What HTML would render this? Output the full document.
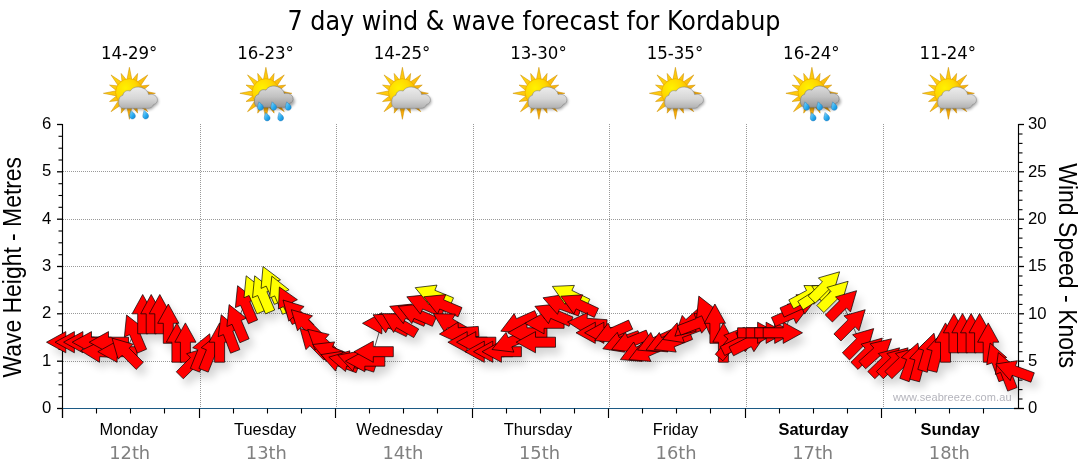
<!DOCTYPE html><html><head><meta charset="utf-8"><title>7 day wind &amp; wave forecast for Kordabup</title>
<style>html,body{margin:0;padding:0;background:#fff;}svg{display:block}.t{font-family:"DejaVu Sans Condensed","DejaVu Sans","Liberation Sans",sans-serif;font-stretch:condensed}.a{font-family:"Liberation Sans",sans-serif}</style></head><body>
<svg width="1080" height="475" viewBox="0 0 1080 475">
<rect width="1080" height="475" fill="#fff"/>
<text class="t" x="287.5" y="30" font-size="26.5" textLength="493" lengthAdjust="spacingAndGlyphs" fill="#000">7 day wind &amp; wave forecast for Kordabup</text>
<text class="t" x="100.9" y="59" font-size="17.3" textLength="56.5" lengthAdjust="spacingAndGlyphs" fill="#000">14-29°</text>
<text class="t" x="237.3" y="59" font-size="17.3" textLength="56.5" lengthAdjust="spacingAndGlyphs" fill="#000">16-23°</text>
<text class="t" x="373.8" y="59" font-size="17.3" textLength="56.5" lengthAdjust="spacingAndGlyphs" fill="#000">14-25°</text>
<text class="t" x="510.2" y="59" font-size="17.3" textLength="56.5" lengthAdjust="spacingAndGlyphs" fill="#000">13-30°</text>
<text class="t" x="646.7" y="59" font-size="17.3" textLength="56.5" lengthAdjust="spacingAndGlyphs" fill="#000">15-35°</text>
<text class="t" x="783.1" y="59" font-size="17.3" textLength="56.5" lengthAdjust="spacingAndGlyphs" fill="#000">16-24°</text>
<text class="t" x="919.6" y="59" font-size="17.3" textLength="56.5" lengthAdjust="spacingAndGlyphs" fill="#000">11-24°</text>
<defs><radialGradient id="gsun" cx="0.36" cy="0.34" r="0.75"><stop offset="0" stop-color="#fff200"/><stop offset="0.5" stop-color="#ffd800"/><stop offset="1" stop-color="#f4a300"/></radialGradient><linearGradient id="gray1" x1="0" y1="0" x2="0" y2="1"><stop offset="0" stop-color="#ececec"/><stop offset="0.55" stop-color="#d6d6d6"/><stop offset="1" stop-color="#b0b0b0"/></linearGradient><linearGradient id="gray2" x1="0" y1="0" x2="0" y2="1"><stop offset="0" stop-color="#dcdcdc"/><stop offset="0.5" stop-color="#c2c2c2"/><stop offset="1" stop-color="#969696"/></linearGradient><linearGradient id="gdrop" x1="0" y1="0" x2="1" y2="1"><stop offset="0" stop-color="#8fdcfb"/><stop offset="0.6" stop-color="#25a8ee"/><stop offset="1" stop-color="#1583cc"/></linearGradient><filter id="ib" x="-20%" y="-20%" width="140%" height="140%"><feGaussianBlur stdDeviation="0.35"/></filter><filter id="ish" x="-30%" y="-30%" width="160%" height="180%"><feGaussianBlur stdDeviation="1.6"/></filter><linearGradient id="gray" gradientUnits="userSpaceOnUse" x1="-18" y1="-18" x2="18" y2="18"><stop offset="0" stop-color="#ffd60a"/><stop offset="0.5" stop-color="#fdbf10"/><stop offset="1" stop-color="#f39a00"/></linearGradient><g id="sun"><g fill="url(#gray)" stroke="#c98a00" stroke-width="0.5" stroke-linejoin="miter"><polygon points="0.00,-26.00 2.58,-12.95 8.23,-19.86 7.33,-10.98 18.38,-18.38 10.98,-7.33 19.86,-8.23 12.95,-2.58 26.00,0.00 12.95,2.58 19.86,8.23 10.98,7.33 18.38,18.38 7.33,10.98 8.23,19.86 2.58,12.95 0.00,26.00 -2.58,12.95 -8.23,19.86 -7.33,10.98 -18.38,18.38 -10.98,7.33 -19.86,8.23 -12.95,2.58 -26.00,0.00 -12.95,-2.58 -19.86,-8.23 -10.98,-7.33 -18.38,-18.38 -7.33,-10.98 -8.23,-19.86 -2.58,-12.95"/></g><circle r="13.8" cy="-0.8" fill="url(#gsun)" stroke="#e8a400" stroke-width="0.6"/></g><path id="cl" d="M-5.5,15 C-9.5,15 -11,11.5 -10.6,8.5 C-10.8,5 -9,2.5 -6.5,2 C-6,-1.5 -3,-3.5 0.8,-2.2 C3,-6 8,-7.2 12.5,-5.6 C16.5,-4.2 18.8,-1.5 19.2,1.2 C23,0.2 27,2 27.8,5.2 C28.6,8 27,10.5 24.2,11.2 C23,13.8 21,15 18.5,15 Z"/><path id="drop" d="M-1.9,-3.9 C-1.2,-2.6 2.6,-1.2 2.6,1.6 C2.6,3.4 1.2,4.6 -0.4,4.6 C-2.2,4.6 -3.2,3.2 -3.2,1.6 C-3.2,-0.4 -2.2,-2.2 -1.9,-3.9 Z"/></defs>
<g transform="translate(129.4,93.3)">
<g filter="url(#ib)">
<use href="#sun"/>
</g>
<use href="#cl" fill="#000" opacity="0.35" filter="url(#ish)" transform="translate(1,1.5)"/>
<g filter="url(#ib)"><use href="#cl" fill="url(#gray1)" stroke="#8c8c8c" stroke-width="0.6"/></g>
<g filter="url(#ib)"><use href="#drop" transform="translate(3.4,21)" fill="url(#gdrop)" stroke="#1a6fb0" stroke-width="0.4"/></g>
<g filter="url(#ib)"><use href="#drop" transform="translate(16.6,21)" fill="url(#gdrop)" stroke="#1a6fb0" stroke-width="0.4"/></g>
</g>
<g transform="translate(265.9,93.3)">
<g filter="url(#ib)">
<use href="#sun"/>
</g>
<use href="#cl" fill="#000" opacity="0.35" filter="url(#ish)" transform="translate(1,1.5)"/>
<g filter="url(#ib)" transform="translate(-0.8,-1)"><use href="#cl" fill="url(#gray2)" stroke="#787878" stroke-width="0.6"/></g>
<g filter="url(#ib)"><use href="#drop" transform="translate(-5.1,12.4)" fill="url(#gdrop)" stroke="#1a6fb0" stroke-width="0.4"/></g>
<g filter="url(#ib)"><use href="#drop" transform="translate(8.1,12.4)" fill="url(#gdrop)" stroke="#1a6fb0" stroke-width="0.4"/></g>
<g filter="url(#ib)"><use href="#drop" transform="translate(22.7,12.4)" fill="url(#gdrop)" stroke="#1a6fb0" stroke-width="0.4"/></g>
<g filter="url(#ib)"><use href="#drop" transform="translate(1.6,23)" fill="url(#gdrop)" stroke="#1a6fb0" stroke-width="0.4"/></g>
<g filter="url(#ib)"><use href="#drop" transform="translate(15.1,23)" fill="url(#gdrop)" stroke="#1a6fb0" stroke-width="0.4"/></g>
</g>
<g transform="translate(402.4,93.3)">
<g filter="url(#ib)">
<use href="#sun"/>
</g>
<use href="#cl" fill="#000" opacity="0.35" filter="url(#ish)" transform="translate(1,1.5)"/>
<g filter="url(#ib)"><use href="#cl" fill="url(#gray1)" stroke="#8c8c8c" stroke-width="0.6"/></g>
</g>
<g transform="translate(538.9,93.3)">
<g filter="url(#ib)">
<use href="#sun"/>
</g>
<use href="#cl" fill="#000" opacity="0.35" filter="url(#ish)" transform="translate(1,1.5)"/>
<g filter="url(#ib)"><use href="#cl" fill="url(#gray1)" stroke="#8c8c8c" stroke-width="0.6"/></g>
</g>
<g transform="translate(675.4,93.3)">
<g filter="url(#ib)">
<use href="#sun"/>
</g>
<use href="#cl" fill="#000" opacity="0.35" filter="url(#ish)" transform="translate(1,1.5)"/>
<g filter="url(#ib)"><use href="#cl" fill="url(#gray1)" stroke="#8c8c8c" stroke-width="0.6"/></g>
</g>
<g transform="translate(811.9,93.3)">
<g filter="url(#ib)">
<use href="#sun"/>
</g>
<use href="#cl" fill="#000" opacity="0.35" filter="url(#ish)" transform="translate(1,1.5)"/>
<g filter="url(#ib)" transform="translate(-0.8,-1)"><use href="#cl" fill="url(#gray2)" stroke="#787878" stroke-width="0.6"/></g>
<g filter="url(#ib)"><use href="#drop" transform="translate(-5.1,12.4)" fill="url(#gdrop)" stroke="#1a6fb0" stroke-width="0.4"/></g>
<g filter="url(#ib)"><use href="#drop" transform="translate(8.1,12.4)" fill="url(#gdrop)" stroke="#1a6fb0" stroke-width="0.4"/></g>
<g filter="url(#ib)"><use href="#drop" transform="translate(22.7,12.4)" fill="url(#gdrop)" stroke="#1a6fb0" stroke-width="0.4"/></g>
<g filter="url(#ib)"><use href="#drop" transform="translate(1.6,23)" fill="url(#gdrop)" stroke="#1a6fb0" stroke-width="0.4"/></g>
<g filter="url(#ib)"><use href="#drop" transform="translate(15.1,23)" fill="url(#gdrop)" stroke="#1a6fb0" stroke-width="0.4"/></g>
</g>
<g transform="translate(948.4,93.3)">
<g filter="url(#ib)">
<use href="#sun"/>
</g>
<use href="#cl" fill="#000" opacity="0.35" filter="url(#ish)" transform="translate(1,1.5)"/>
<g filter="url(#ib)"><use href="#cl" fill="url(#gray1)" stroke="#8c8c8c" stroke-width="0.6"/></g>
</g>
<line x1="63.0" x2="1016.5" y1="361.5" y2="361.5" stroke="#999" stroke-width="1" stroke-dasharray="1 1" shape-rendering="crispEdges"/>
<line x1="63.0" x2="1016.5" y1="313.5" y2="313.5" stroke="#999" stroke-width="1" stroke-dasharray="1 1" shape-rendering="crispEdges"/>
<line x1="63.0" x2="1016.5" y1="266.5" y2="266.5" stroke="#999" stroke-width="1" stroke-dasharray="1 1" shape-rendering="crispEdges"/>
<line x1="63.0" x2="1016.5" y1="219.5" y2="219.5" stroke="#999" stroke-width="1" stroke-dasharray="1 1" shape-rendering="crispEdges"/>
<line x1="63.0" x2="1016.5" y1="171.5" y2="171.5" stroke="#999" stroke-width="1" stroke-dasharray="1 1" shape-rendering="crispEdges"/>
<line x1="200.5" x2="200.5" y1="124.0" y2="408.0" stroke="#999" stroke-width="1" stroke-dasharray="1 1" shape-rendering="crispEdges"/>
<line x1="336.5" x2="336.5" y1="124.0" y2="408.0" stroke="#999" stroke-width="1" stroke-dasharray="1 1" shape-rendering="crispEdges"/>
<line x1="473.5" x2="473.5" y1="124.0" y2="408.0" stroke="#999" stroke-width="1" stroke-dasharray="1 1" shape-rendering="crispEdges"/>
<line x1="609.5" x2="609.5" y1="124.0" y2="408.0" stroke="#999" stroke-width="1" stroke-dasharray="1 1" shape-rendering="crispEdges"/>
<line x1="746.5" x2="746.5" y1="124.0" y2="408.0" stroke="#999" stroke-width="1" stroke-dasharray="1 1" shape-rendering="crispEdges"/>
<line x1="883.5" x2="883.5" y1="124.0" y2="408.0" stroke="#999" stroke-width="1" stroke-dasharray="1 1" shape-rendering="crispEdges"/>
<line x1="62.5" x2="62.5" y1="124.0" y2="418.0" stroke="#000" stroke-width="1.15"/>
<line x1="1018.5" x2="1018.5" y1="124.0" y2="409.0" stroke="#000" stroke-width="1.15"/>
<line x1="62.5" x2="1014.5" y1="408.5" y2="408.5" stroke="#1c5a85" stroke-width="1.2"/>
<line x1="57.0" x2="62.5" y1="408.5" y2="408.5" stroke="#000" stroke-width="1.3"/>
<text class="a" x="51.3" y="413.1" font-size="16.7" text-anchor="end" fill="#000">0</text>
<line x1="58.5" x2="62.5" y1="396.7" y2="396.7" stroke="#000" stroke-width="1.1"/>
<line x1="58.5" x2="62.5" y1="384.8" y2="384.8" stroke="#000" stroke-width="1.1"/>
<line x1="58.5" x2="62.5" y1="373.0" y2="373.0" stroke="#000" stroke-width="1.1"/>
<line x1="57.0" x2="62.5" y1="361.2" y2="361.2" stroke="#000" stroke-width="1.3"/>
<text class="a" x="51.3" y="365.8" font-size="16.7" text-anchor="end" fill="#000">1</text>
<line x1="58.5" x2="62.5" y1="349.3" y2="349.3" stroke="#000" stroke-width="1.1"/>
<line x1="58.5" x2="62.5" y1="337.5" y2="337.5" stroke="#000" stroke-width="1.1"/>
<line x1="58.5" x2="62.5" y1="325.7" y2="325.7" stroke="#000" stroke-width="1.1"/>
<line x1="57.0" x2="62.5" y1="313.8" y2="313.8" stroke="#000" stroke-width="1.3"/>
<text class="a" x="51.3" y="318.4" font-size="16.7" text-anchor="end" fill="#000">2</text>
<line x1="58.5" x2="62.5" y1="302.0" y2="302.0" stroke="#000" stroke-width="1.1"/>
<line x1="58.5" x2="62.5" y1="290.2" y2="290.2" stroke="#000" stroke-width="1.1"/>
<line x1="58.5" x2="62.5" y1="278.3" y2="278.3" stroke="#000" stroke-width="1.1"/>
<line x1="57.0" x2="62.5" y1="266.5" y2="266.5" stroke="#000" stroke-width="1.3"/>
<text class="a" x="51.3" y="271.1" font-size="16.7" text-anchor="end" fill="#000">3</text>
<line x1="58.5" x2="62.5" y1="254.7" y2="254.7" stroke="#000" stroke-width="1.1"/>
<line x1="58.5" x2="62.5" y1="242.8" y2="242.8" stroke="#000" stroke-width="1.1"/>
<line x1="58.5" x2="62.5" y1="231.0" y2="231.0" stroke="#000" stroke-width="1.1"/>
<line x1="57.0" x2="62.5" y1="219.2" y2="219.2" stroke="#000" stroke-width="1.3"/>
<text class="a" x="51.3" y="223.8" font-size="16.7" text-anchor="end" fill="#000">4</text>
<line x1="58.5" x2="62.5" y1="207.3" y2="207.3" stroke="#000" stroke-width="1.1"/>
<line x1="58.5" x2="62.5" y1="195.5" y2="195.5" stroke="#000" stroke-width="1.1"/>
<line x1="58.5" x2="62.5" y1="183.7" y2="183.7" stroke="#000" stroke-width="1.1"/>
<line x1="57.0" x2="62.5" y1="171.8" y2="171.8" stroke="#000" stroke-width="1.3"/>
<text class="a" x="51.3" y="176.4" font-size="16.7" text-anchor="end" fill="#000">5</text>
<line x1="58.5" x2="62.5" y1="160.0" y2="160.0" stroke="#000" stroke-width="1.1"/>
<line x1="58.5" x2="62.5" y1="148.2" y2="148.2" stroke="#000" stroke-width="1.1"/>
<line x1="58.5" x2="62.5" y1="136.3" y2="136.3" stroke="#000" stroke-width="1.1"/>
<line x1="57.0" x2="62.5" y1="124.5" y2="124.5" stroke="#000" stroke-width="1.3"/>
<text class="a" x="51.3" y="129.1" font-size="16.7" text-anchor="end" fill="#000">6</text>
<line x1="1014.0" x2="1024.0" y1="408.5" y2="408.5" stroke="#000" stroke-width="1.3"/>
<text class="a" x="1028.1" y="413.3" font-size="16.7" text-anchor="start" fill="#000">0</text>
<line x1="1018.5" x2="1022.5" y1="399.0" y2="399.0" stroke="#000" stroke-width="1.1"/>
<line x1="1018.5" x2="1022.5" y1="389.6" y2="389.6" stroke="#000" stroke-width="1.1"/>
<line x1="1018.5" x2="1022.5" y1="380.1" y2="380.1" stroke="#000" stroke-width="1.1"/>
<line x1="1018.5" x2="1022.5" y1="370.6" y2="370.6" stroke="#000" stroke-width="1.1"/>
<line x1="1018.5" x2="1024.0" y1="361.2" y2="361.2" stroke="#000" stroke-width="1.3"/>
<text class="a" x="1028.1" y="366.0" font-size="16.7" text-anchor="start" fill="#000">5</text>
<line x1="1018.5" x2="1022.5" y1="351.7" y2="351.7" stroke="#000" stroke-width="1.1"/>
<line x1="1018.5" x2="1022.5" y1="342.2" y2="342.2" stroke="#000" stroke-width="1.1"/>
<line x1="1018.5" x2="1022.5" y1="332.8" y2="332.8" stroke="#000" stroke-width="1.1"/>
<line x1="1018.5" x2="1022.5" y1="323.3" y2="323.3" stroke="#000" stroke-width="1.1"/>
<line x1="1018.5" x2="1024.0" y1="313.8" y2="313.8" stroke="#000" stroke-width="1.3"/>
<text class="a" x="1028.1" y="318.6" font-size="16.7" text-anchor="start" fill="#000">10</text>
<line x1="1018.5" x2="1022.5" y1="304.4" y2="304.4" stroke="#000" stroke-width="1.1"/>
<line x1="1018.5" x2="1022.5" y1="294.9" y2="294.9" stroke="#000" stroke-width="1.1"/>
<line x1="1018.5" x2="1022.5" y1="285.4" y2="285.4" stroke="#000" stroke-width="1.1"/>
<line x1="1018.5" x2="1022.5" y1="276.0" y2="276.0" stroke="#000" stroke-width="1.1"/>
<line x1="1018.5" x2="1024.0" y1="266.5" y2="266.5" stroke="#000" stroke-width="1.3"/>
<text class="a" x="1028.1" y="271.3" font-size="16.7" text-anchor="start" fill="#000">15</text>
<line x1="1018.5" x2="1022.5" y1="257.0" y2="257.0" stroke="#000" stroke-width="1.1"/>
<line x1="1018.5" x2="1022.5" y1="247.6" y2="247.6" stroke="#000" stroke-width="1.1"/>
<line x1="1018.5" x2="1022.5" y1="238.1" y2="238.1" stroke="#000" stroke-width="1.1"/>
<line x1="1018.5" x2="1022.5" y1="228.6" y2="228.6" stroke="#000" stroke-width="1.1"/>
<line x1="1018.5" x2="1024.0" y1="219.2" y2="219.2" stroke="#000" stroke-width="1.3"/>
<text class="a" x="1028.1" y="224.0" font-size="16.7" text-anchor="start" fill="#000">20</text>
<line x1="1018.5" x2="1022.5" y1="209.7" y2="209.7" stroke="#000" stroke-width="1.1"/>
<line x1="1018.5" x2="1022.5" y1="200.2" y2="200.2" stroke="#000" stroke-width="1.1"/>
<line x1="1018.5" x2="1022.5" y1="190.8" y2="190.8" stroke="#000" stroke-width="1.1"/>
<line x1="1018.5" x2="1022.5" y1="181.3" y2="181.3" stroke="#000" stroke-width="1.1"/>
<line x1="1018.5" x2="1024.0" y1="171.8" y2="171.8" stroke="#000" stroke-width="1.3"/>
<text class="a" x="1028.1" y="176.6" font-size="16.7" text-anchor="start" fill="#000">25</text>
<line x1="1018.5" x2="1022.5" y1="162.4" y2="162.4" stroke="#000" stroke-width="1.1"/>
<line x1="1018.5" x2="1022.5" y1="152.9" y2="152.9" stroke="#000" stroke-width="1.1"/>
<line x1="1018.5" x2="1022.5" y1="143.4" y2="143.4" stroke="#000" stroke-width="1.1"/>
<line x1="1018.5" x2="1022.5" y1="134.0" y2="134.0" stroke="#000" stroke-width="1.1"/>
<line x1="1018.5" x2="1024.0" y1="124.5" y2="124.5" stroke="#000" stroke-width="1.3"/>
<text class="a" x="1028.1" y="129.3" font-size="16.7" text-anchor="start" fill="#000">30</text>
<line x1="62.5" x2="62.5" y1="408.5" y2="418.0" stroke="#000" stroke-width="1.15"/>
<line x1="96.5" x2="96.5" y1="408.5" y2="413.5" stroke="#000" stroke-width="1.1"/>
<line x1="130.5" x2="130.5" y1="408.5" y2="413.5" stroke="#000" stroke-width="1.1"/>
<line x1="164.5" x2="164.5" y1="408.5" y2="413.5" stroke="#000" stroke-width="1.1"/>
<line x1="199.5" x2="199.5" y1="408.5" y2="418.0" stroke="#000" stroke-width="1.15"/>
<line x1="233.5" x2="233.5" y1="408.5" y2="413.5" stroke="#000" stroke-width="1.1"/>
<line x1="267.5" x2="267.5" y1="408.5" y2="413.5" stroke="#000" stroke-width="1.1"/>
<line x1="301.5" x2="301.5" y1="408.5" y2="413.5" stroke="#000" stroke-width="1.1"/>
<line x1="335.5" x2="335.5" y1="408.5" y2="418.0" stroke="#000" stroke-width="1.15"/>
<line x1="369.5" x2="369.5" y1="408.5" y2="413.5" stroke="#000" stroke-width="1.1"/>
<line x1="403.5" x2="403.5" y1="408.5" y2="413.5" stroke="#000" stroke-width="1.1"/>
<line x1="437.5" x2="437.5" y1="408.5" y2="413.5" stroke="#000" stroke-width="1.1"/>
<line x1="472.5" x2="472.5" y1="408.5" y2="418.0" stroke="#000" stroke-width="1.15"/>
<line x1="506.5" x2="506.5" y1="408.5" y2="413.5" stroke="#000" stroke-width="1.1"/>
<line x1="540.5" x2="540.5" y1="408.5" y2="413.5" stroke="#000" stroke-width="1.1"/>
<line x1="574.5" x2="574.5" y1="408.5" y2="413.5" stroke="#000" stroke-width="1.1"/>
<line x1="608.5" x2="608.5" y1="408.5" y2="418.0" stroke="#000" stroke-width="1.15"/>
<line x1="642.5" x2="642.5" y1="408.5" y2="413.5" stroke="#000" stroke-width="1.1"/>
<line x1="676.5" x2="676.5" y1="408.5" y2="413.5" stroke="#000" stroke-width="1.1"/>
<line x1="710.5" x2="710.5" y1="408.5" y2="413.5" stroke="#000" stroke-width="1.1"/>
<line x1="745.5" x2="745.5" y1="408.5" y2="418.0" stroke="#000" stroke-width="1.15"/>
<line x1="779.5" x2="779.5" y1="408.5" y2="413.5" stroke="#000" stroke-width="1.1"/>
<line x1="813.5" x2="813.5" y1="408.5" y2="413.5" stroke="#000" stroke-width="1.1"/>
<line x1="847.5" x2="847.5" y1="408.5" y2="413.5" stroke="#000" stroke-width="1.1"/>
<line x1="881.5" x2="881.5" y1="408.5" y2="418.0" stroke="#000" stroke-width="1.15"/>
<line x1="915.5" x2="915.5" y1="408.5" y2="413.5" stroke="#000" stroke-width="1.1"/>
<line x1="949.5" x2="949.5" y1="408.5" y2="413.5" stroke="#000" stroke-width="1.1"/>
<line x1="983.5" x2="983.5" y1="408.5" y2="413.5" stroke="#000" stroke-width="1.1"/>
<text class="a" x="128.7" y="434.5" font-size="16.4" text-anchor="middle" fill="#000">Monday</text>
<text class="t" x="109.2" y="458.8" font-size="17.3" textLength="41" lengthAdjust="spacingAndGlyphs" fill="#808080">12th</text>
<text class="a" x="265.2" y="434.5" font-size="16.4" text-anchor="middle" fill="#000">Tuesday</text>
<text class="t" x="245.8" y="458.8" font-size="17.3" textLength="41" lengthAdjust="spacingAndGlyphs" fill="#808080">13th</text>
<text class="a" x="399.5" y="434.5" font-size="16.4" text-anchor="middle" fill="#000">Wednesday</text>
<text class="t" x="382.4" y="458.8" font-size="17.3" textLength="41" lengthAdjust="spacingAndGlyphs" fill="#808080">14th</text>
<text class="a" x="538.0" y="434.5" font-size="16.4" text-anchor="middle" fill="#000">Thursday</text>
<text class="t" x="519.0" y="458.8" font-size="17.3" textLength="41" lengthAdjust="spacingAndGlyphs" fill="#808080">15th</text>
<text class="a" x="675.5" y="434.5" font-size="16.4" text-anchor="middle" fill="#000">Friday</text>
<text class="t" x="655.6" y="458.8" font-size="17.3" textLength="41" lengthAdjust="spacingAndGlyphs" fill="#808080">16th</text>
<text class="a" x="813.6" y="434.5" font-size="16.4" text-anchor="middle" fill="#000" font-weight="bold">Saturday</text>
<text class="t" x="792.2" y="458.8" font-size="17.3" textLength="41" lengthAdjust="spacingAndGlyphs" fill="#808080">17th</text>
<text class="a" x="950.2" y="434.5" font-size="16.4" text-anchor="middle" fill="#000" font-weight="bold">Sunday</text>
<text class="t" x="928.8" y="458.8" font-size="17.3" textLength="41" lengthAdjust="spacingAndGlyphs" fill="#808080">18th</text>
<text class="a" transform="translate(20.9,267.2) rotate(-90) scale(1,1.09)" font-size="22.9" text-anchor="middle" fill="#000">Wave Height - Metres</text>
<text class="a" transform="translate(1058.6,265.6) rotate(90) scale(1,1.09)" font-size="23.05" text-anchor="middle" fill="#000">Wind Speed - Knots</text>
<text class="a" x="893" y="400.5" font-size="11" textLength="118.5" lengthAdjust="spacing" fill="#b4b4bc">www.seabreeze.com.au</text>
<defs><filter id="sh" x="-10%" y="-20%" width="120%" height="150%"><feGaussianBlur stdDeviation="4.5"/></filter></defs>
<g filter="url(#sh)" opacity="0.17" transform="translate(5,7)">
<polygon points="46.5,342.2 65.8,331.6 65.8,337.2 85.8,337.2 85.8,347.2 65.8,347.2 65.8,352.8" fill="#000"/>
<polygon points="55.1,342.2 74.4,331.6 74.4,337.2 94.4,337.2 94.4,347.2 74.4,347.2 74.4,352.8" fill="#000"/>
<polygon points="63.6,342.2 82.9,331.6 82.9,337.2 102.9,337.2 102.9,347.2 82.9,347.2 82.9,352.8" fill="#000"/>
<polygon points="72.2,342.2 91.5,331.6 91.5,337.2 111.5,337.2 111.5,347.2 91.5,347.2 91.5,352.8" fill="#000"/>
<polygon points="80.7,350.7 100.6,341.1 100.3,346.7 120.2,347.8 119.7,357.7 99.7,356.7 99.5,362.3" fill="#000"/>
<polygon points="89.2,342.2 108.5,331.6 108.5,337.2 128.5,337.2 128.5,347.2 108.5,347.2 108.5,352.8" fill="#000"/>
<polygon points="97.8,351.7 117.1,341.1 117.1,346.7 137.1,346.7 137.1,356.7 117.1,356.7 117.1,362.3" fill="#000"/>
<polygon points="112.0,338.1 133.1,344.2 129.2,348.2 143.3,362.3 136.2,369.4 122.1,355.2 118.1,359.2" fill="#000"/>
<polygon points="126.6,315.0 143.9,328.6 138.8,330.8 146.6,349.2 137.4,353.1 129.6,334.7 124.4,336.9" fill="#000"/>
<polygon points="142.7,294.5 153.3,313.8 147.7,313.8 147.7,333.8 137.7,333.8 137.7,313.8 132.1,313.8" fill="#000"/>
<polygon points="151.2,294.5 161.8,313.8 156.2,313.8 156.2,333.8 146.2,333.8 146.2,313.8 140.7,313.8" fill="#000"/>
<polygon points="159.8,294.5 170.4,313.8 164.8,313.8 164.8,333.8 154.8,333.8 154.8,313.8 149.2,313.8" fill="#000"/>
<polygon points="168.3,304.0 178.9,323.3 173.3,323.3 173.3,343.3 163.3,343.3 163.3,323.3 157.7,323.3" fill="#000"/>
<polygon points="176.9,322.9 187.5,342.2 181.9,342.2 181.9,362.2 171.9,362.2 171.9,342.2 166.3,342.2" fill="#000"/>
<polygon points="185.4,322.9 196.0,342.2 190.4,342.2 190.4,362.2 180.4,362.2 180.4,342.2 174.8,342.2" fill="#000"/>
<polygon points="207.6,347.5 201.4,368.7 197.5,364.7 183.3,378.8 176.3,371.8 190.4,357.6 186.5,353.7" fill="#000"/>
<polygon points="209.7,333.8 212.3,355.7 207.1,353.6 199.6,372.1 190.4,368.4 197.9,349.8 192.7,347.7" fill="#000"/>
<polygon points="218.3,333.8 220.9,355.7 215.7,353.6 208.2,372.1 198.9,368.4 206.4,349.8 201.2,347.7" fill="#000"/>
<polygon points="219.6,322.9 230.2,342.2 224.6,342.2 224.6,362.2 214.6,362.2 214.6,342.2 209.0,342.2" fill="#000"/>
<polygon points="221.2,314.7 238.0,329.0 232.8,331.0 239.9,349.6 230.6,353.2 223.4,334.6 218.2,336.6" fill="#000"/>
<polygon points="229.1,304.6 246.4,318.2 241.3,320.4 249.1,338.8 239.9,342.7 232.0,324.3 226.9,326.5" fill="#000"/>
<polygon points="237.6,285.7 254.9,299.3 249.8,301.5 257.6,319.9 248.4,323.8 240.6,305.4 235.4,307.6" fill="#000"/>
<polygon points="246.2,275.8 263.5,289.4 258.3,291.6 266.1,310.0 256.9,313.9 249.1,295.5 244.0,297.7" fill="#000"/>
<polygon points="254.7,275.8 272.0,289.4 266.9,291.6 274.7,310.0 265.5,313.9 257.7,295.5 252.5,297.7" fill="#000"/>
<polygon points="263.0,266.5 280.5,279.8 275.4,282.1 283.5,300.3 274.4,304.4 266.2,286.1 261.1,288.4" fill="#000"/>
<polygon points="271.8,276.2 289.1,289.8 284.0,292.0 291.8,310.4 282.6,314.3 274.7,295.9 269.6,298.1" fill="#000"/>
<polygon points="279.4,287.0 297.4,299.7 292.4,302.2 301.2,320.2 292.2,324.5 283.4,306.6 278.4,309.0" fill="#000"/>
<polygon points="283.0,300.0 304.1,306.5 300.0,310.4 313.9,324.7 306.7,331.7 292.8,317.3 288.8,321.2" fill="#000"/>
<polygon points="291.3,309.7 312.5,315.8 308.5,319.8 322.6,333.9 315.6,341.0 301.4,326.8 297.5,330.8" fill="#000"/>
<polygon points="300.1,328.4 321.1,334.9 317.1,338.8 331.0,353.1 323.8,360.1 309.9,345.7 305.9,349.6" fill="#000"/>
<polygon points="307.7,329.3 329.1,334.4 325.4,338.5 340.3,351.9 333.6,359.3 318.7,345.9 315.0,350.1" fill="#000"/>
<polygon points="312.7,344.5 334.6,341.9 332.5,347.1 351.0,354.6 347.3,363.8 328.7,356.3 326.6,361.5" fill="#000"/>
<polygon points="321.0,354.6 342.8,351.2 340.8,356.5 359.6,363.3 356.2,372.7 337.4,365.9 335.5,371.1" fill="#000"/>
<polygon points="328.8,357.2 349.9,350.8 348.7,356.3 368.3,360.4 366.2,370.2 346.6,366.1 345.5,371.5" fill="#000"/>
<polygon points="337.9,355.2 359.5,351.1 357.8,356.4 376.8,362.6 373.7,372.1 354.7,365.9 352.9,371.2" fill="#000"/>
<polygon points="345.4,361.2 364.8,350.6 364.8,356.2 384.8,356.2 384.8,366.2 364.8,366.2 364.8,371.8" fill="#000"/>
<polygon points="354.0,351.7 373.3,341.1 373.3,346.7 393.3,346.7 393.3,356.7 373.3,356.7 373.3,362.3" fill="#000"/>
<polygon points="362.5,323.3 381.8,312.7 381.8,318.3 401.8,318.3 401.8,328.3 381.8,328.3 381.8,333.9" fill="#000"/>
<polygon points="373.0,314.8 395.0,313.8 392.6,318.8 410.5,327.6 406.2,336.6 388.2,327.8 385.7,332.8" fill="#000"/>
<polygon points="382.2,313.7 404.2,314.1 401.4,319.0 418.7,329.0 413.7,337.6 396.4,327.6 393.6,332.5" fill="#000"/>
<polygon points="389.7,306.3 411.6,304.1 409.4,309.2 427.8,317.0 423.9,326.3 405.5,318.4 403.3,323.6" fill="#000"/>
<polygon points="398.2,306.3 420.1,304.1 417.9,309.2 436.4,317.0 432.4,326.3 414.0,318.4 411.8,323.6" fill="#000"/>
<polygon points="406.8,296.8 428.7,294.6 426.5,299.8 444.9,307.6 441.0,316.8 422.6,309.0 420.4,314.1" fill="#000"/>
<polygon points="415.2,287.7 437.0,285.1 434.9,290.3 453.5,297.8 449.7,307.0 431.2,299.5 429.1,304.7" fill="#000"/>
<polygon points="423.8,296.8 445.8,294.6 443.6,299.8 462.0,307.6 458.1,316.8 439.7,309.0 437.5,314.1" fill="#000"/>
<polygon points="433.4,313.7 455.4,314.1 452.6,319.0 470.0,329.0 465.0,337.6 447.6,327.6 444.8,332.5" fill="#000"/>
<polygon points="439.4,334.1 458.0,322.2 458.3,327.8 478.3,326.4 479.0,336.4 459.0,337.8 459.4,343.3" fill="#000"/>
<polygon points="447.9,342.2 467.2,331.6 467.2,337.2 487.2,337.2 487.2,347.2 467.2,347.2 467.2,352.8" fill="#000"/>
<polygon points="456.5,342.2 475.8,331.6 475.8,337.2 495.8,337.2 495.8,347.2 475.8,347.2 475.8,352.8" fill="#000"/>
<polygon points="465.0,351.7 484.3,341.1 484.3,346.7 504.3,346.7 504.3,356.7 484.3,356.7 484.3,362.3" fill="#000"/>
<polygon points="473.5,351.7 492.8,341.1 492.8,346.7 512.8,346.7 512.8,356.7 492.8,356.7 492.8,362.3" fill="#000"/>
<polygon points="482.1,351.7 501.4,341.1 501.4,346.7 521.4,346.7 521.4,356.7 501.4,356.7 501.4,362.3" fill="#000"/>
<polygon points="492.0,349.5 506.0,332.4 508.1,337.6 526.6,330.1 530.3,339.4 511.8,346.9 513.9,352.1" fill="#000"/>
<polygon points="500.8,331.2 514.2,313.6 516.4,318.7 534.7,310.6 538.8,319.7 520.5,327.9 522.8,333.0" fill="#000"/>
<polygon points="507.7,332.8 527.0,322.2 527.0,327.8 547.0,327.8 547.0,337.8 527.0,337.8 527.0,343.4" fill="#000"/>
<polygon points="516.2,342.2 535.5,331.6 535.5,337.2 555.5,337.2 555.5,347.2 535.5,347.2 535.5,352.8" fill="#000"/>
<polygon points="524.8,323.3 544.1,312.7 544.1,318.3 564.1,318.3 564.1,328.3 544.1,328.3 544.1,333.9" fill="#000"/>
<polygon points="534.9,306.3 556.8,304.1 554.6,309.2 573.0,317.0 569.1,326.3 550.7,318.4 548.5,323.6" fill="#000"/>
<polygon points="543.0,297.8 564.8,294.4 562.9,299.7 581.7,306.5 578.3,315.9 559.5,309.1 557.5,314.3" fill="#000"/>
<polygon points="552.4,286.4 574.4,285.4 571.9,290.4 589.9,299.2 585.5,308.2 567.5,299.4 565.1,304.4" fill="#000"/>
<polygon points="560.8,296.2 582.7,294.8 580.4,299.8 598.5,308.3 594.3,317.4 576.1,308.9 573.8,314.0" fill="#000"/>
<polygon points="567.5,322.0 587.5,312.7 587.1,318.3 607.1,319.7 606.4,329.7 586.4,328.3 586.1,333.9" fill="#000"/>
<polygon points="576.0,332.8 595.3,322.2 595.3,327.8 615.3,327.8 615.3,337.8 595.3,337.8 595.3,343.4" fill="#000"/>
<polygon points="584.6,332.8 603.9,322.2 603.9,327.8 623.9,327.8 623.9,337.8 603.9,337.8 603.9,343.4" fill="#000"/>
<polygon points="594.8,340.6 608.1,323.1 610.4,328.2 628.6,320.1 632.7,329.2 614.4,337.3 616.7,342.5" fill="#000"/>
<polygon points="602.8,348.8 617.3,332.3 619.2,337.5 638.0,330.7 641.5,340.1 622.7,346.9 624.6,352.2" fill="#000"/>
<polygon points="611.6,349.5 625.5,332.4 627.6,337.6 646.2,330.1 649.9,339.4 631.4,346.9 633.5,352.1" fill="#000"/>
<polygon points="620.4,359.6 633.7,342.0 636.0,347.1 654.3,339.0 658.3,348.1 640.1,356.3 642.3,361.4" fill="#000"/>
<polygon points="628.9,359.6 642.3,342.0 644.5,347.1 662.8,339.0 666.9,348.1 648.6,356.3 650.9,361.4" fill="#000"/>
<polygon points="637.5,350.1 650.8,332.5 653.1,337.7 671.3,329.5 675.4,338.7 657.1,346.8 659.4,351.9" fill="#000"/>
<polygon points="646.0,350.1 659.3,332.5 661.6,337.7 679.9,329.5 684.0,338.7 665.7,346.8 668.0,351.9" fill="#000"/>
<polygon points="654.3,349.5 668.2,332.4 670.3,337.6 688.9,330.1 692.6,339.4 674.1,346.9 676.2,352.1" fill="#000"/>
<polygon points="662.6,339.4 677.1,322.8 679.0,328.1 697.8,321.2 701.2,330.6 682.4,337.5 684.4,342.7" fill="#000"/>
<polygon points="674.9,336.2 682.2,315.4 685.9,319.6 700.8,306.2 707.5,313.6 692.6,327.0 696.4,331.2" fill="#000"/>
<polygon points="715.8,316.4 701.6,333.2 699.6,328.0 680.9,335.1 677.3,325.8 696.0,318.6 694.0,313.4" fill="#000"/>
<polygon points="698.8,296.1 716.1,309.7 711.0,311.9 718.8,330.3 709.6,334.2 701.7,315.8 696.6,318.0" fill="#000"/>
<polygon points="714.9,304.0 725.5,323.3 719.9,323.3 719.9,343.3 709.9,343.3 709.9,323.3 704.3,323.3" fill="#000"/>
<polygon points="723.4,322.9 734.0,342.2 728.4,342.2 728.4,362.2 718.4,362.2 718.4,342.2 712.8,342.2" fill="#000"/>
<polygon points="744.4,327.4 740.1,349.0 735.8,345.4 722.9,360.8 715.3,354.3 728.1,339.0 723.8,335.4" fill="#000"/>
<polygon points="757.9,333.8 745.2,351.8 742.7,346.7 724.7,355.5 720.3,346.5 738.3,337.7 735.9,332.7" fill="#000"/>
<polygon points="766.2,333.5 753.9,351.7 751.3,346.7 733.5,355.8 729.0,346.9 746.8,337.8 744.2,332.8" fill="#000"/>
<polygon points="776.9,332.8 757.6,343.4 757.6,337.8 737.6,337.8 737.6,327.8 757.6,327.8 757.6,322.2" fill="#000"/>
<polygon points="785.4,332.8 766.1,343.4 766.1,337.8 746.1,337.8 746.1,327.8 766.1,327.8 766.1,322.2" fill="#000"/>
<polygon points="794.0,332.8 774.7,343.4 774.7,337.8 754.7,337.8 754.7,327.8 774.7,327.8 774.7,322.2" fill="#000"/>
<polygon points="802.5,332.8 783.2,343.4 783.2,337.8 763.2,337.8 763.2,327.8 783.2,327.8 783.2,322.2" fill="#000"/>
<polygon points="809.4,306.0 796.1,323.5 793.8,318.4 775.5,326.5 771.4,317.4 789.7,309.3 787.4,304.1" fill="#000"/>
<polygon points="817.9,296.5 804.6,314.1 802.3,308.9 784.1,317.1 780.0,307.9 798.3,299.8 796.0,294.7" fill="#000"/>
<polygon points="825.9,285.8 813.8,304.3 811.2,299.3 793.5,308.7 788.8,299.9 806.5,290.5 803.9,285.5" fill="#000"/>
<polygon points="833.7,284.7 823.0,303.9 820.0,299.1 803.1,309.7 797.8,301.3 814.7,290.7 811.8,285.9" fill="#000"/>
<polygon points="839.6,271.8 833.4,292.9 829.4,289.0 815.3,303.1 808.2,296.0 822.4,281.9 818.4,277.9" fill="#000"/>
<polygon points="848.1,281.3 841.9,302.4 838.0,298.4 823.8,312.6 816.8,305.5 830.9,291.4 827.0,287.4" fill="#000"/>
<polygon points="856.6,290.7 850.5,311.9 846.5,307.9 832.4,322.0 825.3,315.0 839.5,300.8 835.5,296.9" fill="#000"/>
<polygon points="865.2,309.7 859.0,330.8 855.1,326.8 840.9,341.0 833.9,333.9 848.0,319.8 844.0,315.8" fill="#000"/>
<polygon points="873.7,328.6 867.6,349.7 863.6,345.8 849.5,359.9 842.4,352.8 856.5,338.7 852.6,334.7" fill="#000"/>
<polygon points="882.3,338.1 876.1,359.2 872.1,355.2 858.0,369.4 850.9,362.3 865.1,348.2 861.1,344.2" fill="#000"/>
<polygon points="891.5,338.8 884.2,359.6 880.5,355.4 865.6,368.8 858.9,361.4 873.8,348.0 870.1,343.8" fill="#000"/>
<polygon points="899.6,347.8 893.1,368.8 889.2,364.8 874.8,378.7 867.8,371.5 882.2,357.6 878.3,353.5" fill="#000"/>
<polygon points="908.1,347.8 901.6,368.8 897.7,364.8 883.3,378.7 876.4,371.5 890.8,357.6 886.9,353.5" fill="#000"/>
<polygon points="916.7,347.8 910.1,368.8 906.2,364.8 891.9,378.7 884.9,371.5 899.3,357.6 895.4,353.5" fill="#000"/>
<polygon points="917.9,343.0 921.3,364.8 916.0,362.9 909.2,381.7 899.8,378.3 906.6,359.5 901.3,357.5" fill="#000"/>
<polygon points="924.8,342.5 930.1,363.9 924.7,362.5 919.5,381.8 909.8,379.2 915.0,359.9 909.6,358.4" fill="#000"/>
<polygon points="934.0,333.2 938.5,354.8 933.2,353.2 927.3,372.3 917.8,369.4 923.6,350.2 918.3,348.6" fill="#000"/>
<polygon points="941.6,333.0 947.2,354.3 941.8,352.9 936.9,372.3 927.2,369.9 932.1,350.5 926.6,349.1" fill="#000"/>
<polygon points="945.5,322.9 956.1,342.2 950.5,342.2 950.5,362.2 940.5,362.2 940.5,342.2 934.9,342.2" fill="#000"/>
<polygon points="954.0,313.5 964.6,332.8 959.0,332.8 959.0,352.8 949.0,352.8 949.0,332.8 943.4,332.8" fill="#000"/>
<polygon points="962.5,313.5 973.1,332.8 967.5,332.8 967.5,352.8 957.5,352.8 957.5,332.8 951.9,332.8" fill="#000"/>
<polygon points="971.1,313.5 981.7,332.8 976.1,332.8 976.1,352.8 966.1,352.8 966.1,332.8 960.5,332.8" fill="#000"/>
<polygon points="979.6,313.5 990.2,332.8 984.6,332.8 984.6,352.8 974.6,352.8 974.6,332.8 969.0,332.8" fill="#000"/>
<polygon points="988.2,322.9 998.8,342.2 993.2,342.2 993.2,362.2 983.2,362.2 983.2,342.2 977.6,342.2" fill="#000"/>
<polygon points="990.1,343.0 1006.7,357.5 1001.4,359.5 1008.2,378.3 998.9,381.7 992.0,362.9 986.7,364.8" fill="#000"/>
<polygon points="998.3,352.6 1015.1,366.8 1009.9,368.8 1017.1,387.5 1007.7,391.1 1000.6,372.4 995.4,374.4" fill="#000"/>
<polygon points="995.7,364.0 1017.4,360.7 1015.5,365.9 1034.3,372.8 1030.9,382.2 1012.1,375.3 1010.2,380.6" fill="#000"/>
</g>
<polyline fill="none" stroke="#555" stroke-width="1" points="65.8,342.2 74.4,342.2 82.9,342.2 91.5,342.2 100.0,351.7 108.5,342.2 117.1,351.7 125.6,351.7 134.2,332.8 142.7,313.8 151.2,313.8 159.8,313.8 168.3,323.3 176.9,342.2 185.4,342.2 193.9,361.2 202.5,351.7 211.0,351.7 219.6,342.2 228.1,332.8 236.6,322.4 245.2,303.4 253.7,293.6 262.3,293.6 270.8,284.1 279.3,294.0 287.9,304.4 296.4,313.8 305.0,323.3 313.5,342.2 322.0,342.2 330.6,351.7 339.1,361.2 347.7,361.2 356.2,361.2 364.8,361.2 373.3,351.7 381.8,323.3 390.4,323.3 398.9,323.3 407.4,313.8 416.0,313.8 424.5,304.4 433.1,294.9 441.6,304.4 450.1,323.3 458.7,332.8 467.2,342.2 475.8,342.2 484.3,351.7 492.8,351.7 501.4,351.7 509.9,342.2 518.5,323.3 527.0,332.8 535.5,342.2 544.1,323.3 552.6,313.8 561.2,304.4 569.7,294.9 578.2,304.4 586.8,323.3 595.3,332.8 603.9,332.8 612.4,332.8 620.9,342.2 629.5,342.2 638.0,351.7 646.6,351.7 655.1,342.2 663.6,342.2 672.2,342.2 680.7,332.8 689.3,323.3 697.8,323.3 706.3,313.8 714.9,323.3 723.4,342.2 732.0,342.2 740.5,342.2 749.0,342.2 757.6,332.8 766.1,332.8 774.7,332.8 783.2,332.8 791.8,313.8 800.3,304.4 808.8,294.9 817.4,294.9 825.9,285.4 834.4,294.9 843.0,304.4 851.5,323.3 860.1,342.2 868.6,351.7 877.1,351.7 885.7,361.2 894.2,361.2 902.8,361.2 911.3,361.2 919.8,361.2 928.4,351.7 936.9,351.7 945.5,342.2 954.0,332.8 962.5,332.8 971.1,332.8 979.6,332.8 988.2,342.2 996.7,361.2 1005.2,370.6 1013.8,370.6"/>
<g stroke="#000" stroke-width="0.7" stroke-linejoin="miter">
<polygon points="46.5,342.2 65.8,331.6 65.8,337.2 85.8,337.2 85.8,347.2 65.8,347.2 65.8,352.8" fill="#ff0000"/>
<polygon points="55.1,342.2 74.4,331.6 74.4,337.2 94.4,337.2 94.4,347.2 74.4,347.2 74.4,352.8" fill="#ff0000"/>
<polygon points="63.6,342.2 82.9,331.6 82.9,337.2 102.9,337.2 102.9,347.2 82.9,347.2 82.9,352.8" fill="#ff0000"/>
<polygon points="72.2,342.2 91.5,331.6 91.5,337.2 111.5,337.2 111.5,347.2 91.5,347.2 91.5,352.8" fill="#ff0000"/>
<polygon points="80.7,350.7 100.6,341.1 100.3,346.7 120.2,347.8 119.7,357.7 99.7,356.7 99.5,362.3" fill="#ff0000"/>
<polygon points="89.2,342.2 108.5,331.6 108.5,337.2 128.5,337.2 128.5,347.2 108.5,347.2 108.5,352.8" fill="#ff0000"/>
<polygon points="97.8,351.7 117.1,341.1 117.1,346.7 137.1,346.7 137.1,356.7 117.1,356.7 117.1,362.3" fill="#ff0000"/>
<polygon points="112.0,338.1 133.1,344.2 129.2,348.2 143.3,362.3 136.2,369.4 122.1,355.2 118.1,359.2" fill="#ff0000"/>
<polygon points="126.6,315.0 143.9,328.6 138.8,330.8 146.6,349.2 137.4,353.1 129.6,334.7 124.4,336.9" fill="#ff0000"/>
<polygon points="142.7,294.5 153.3,313.8 147.7,313.8 147.7,333.8 137.7,333.8 137.7,313.8 132.1,313.8" fill="#ff0000"/>
<polygon points="151.2,294.5 161.8,313.8 156.2,313.8 156.2,333.8 146.2,333.8 146.2,313.8 140.7,313.8" fill="#ff0000"/>
<polygon points="159.8,294.5 170.4,313.8 164.8,313.8 164.8,333.8 154.8,333.8 154.8,313.8 149.2,313.8" fill="#ff0000"/>
<polygon points="168.3,304.0 178.9,323.3 173.3,323.3 173.3,343.3 163.3,343.3 163.3,323.3 157.7,323.3" fill="#ff0000"/>
<polygon points="176.9,322.9 187.5,342.2 181.9,342.2 181.9,362.2 171.9,362.2 171.9,342.2 166.3,342.2" fill="#ff0000"/>
<polygon points="185.4,322.9 196.0,342.2 190.4,342.2 190.4,362.2 180.4,362.2 180.4,342.2 174.8,342.2" fill="#ff0000"/>
<polygon points="207.6,347.5 201.4,368.7 197.5,364.7 183.3,378.8 176.3,371.8 190.4,357.6 186.5,353.7" fill="#ff0000"/>
<polygon points="209.7,333.8 212.3,355.7 207.1,353.6 199.6,372.1 190.4,368.4 197.9,349.8 192.7,347.7" fill="#ff0000"/>
<polygon points="218.3,333.8 220.9,355.7 215.7,353.6 208.2,372.1 198.9,368.4 206.4,349.8 201.2,347.7" fill="#ff0000"/>
<polygon points="219.6,322.9 230.2,342.2 224.6,342.2 224.6,362.2 214.6,362.2 214.6,342.2 209.0,342.2" fill="#ff0000"/>
<polygon points="221.2,314.7 238.0,329.0 232.8,331.0 239.9,349.6 230.6,353.2 223.4,334.6 218.2,336.6" fill="#ff0000"/>
<polygon points="229.1,304.6 246.4,318.2 241.3,320.4 249.1,338.8 239.9,342.7 232.0,324.3 226.9,326.5" fill="#ff0000"/>
<polygon points="237.6,285.7 254.9,299.3 249.8,301.5 257.6,319.9 248.4,323.8 240.6,305.4 235.4,307.6" fill="#ff0000"/>
<polygon points="246.2,275.8 263.5,289.4 258.3,291.6 266.1,310.0 256.9,313.9 249.1,295.5 244.0,297.7" fill="#ffff00"/>
<polygon points="254.7,275.8 272.0,289.4 266.9,291.6 274.7,310.0 265.5,313.9 257.7,295.5 252.5,297.7" fill="#ffff00"/>
<polygon points="263.0,266.5 280.5,279.8 275.4,282.1 283.5,300.3 274.4,304.4 266.2,286.1 261.1,288.4" fill="#ffff00"/>
<polygon points="271.8,276.2 289.1,289.8 284.0,292.0 291.8,310.4 282.6,314.3 274.7,295.9 269.6,298.1" fill="#ffff00"/>
<polygon points="279.4,287.0 297.4,299.7 292.4,302.2 301.2,320.2 292.2,324.5 283.4,306.6 278.4,309.0" fill="#ff0000"/>
<polygon points="283.0,300.0 304.1,306.5 300.0,310.4 313.9,324.7 306.7,331.7 292.8,317.3 288.8,321.2" fill="#ff0000"/>
<polygon points="291.3,309.7 312.5,315.8 308.5,319.8 322.6,333.9 315.6,341.0 301.4,326.8 297.5,330.8" fill="#ff0000"/>
<polygon points="300.1,328.4 321.1,334.9 317.1,338.8 331.0,353.1 323.8,360.1 309.9,345.7 305.9,349.6" fill="#ff0000"/>
<polygon points="307.7,329.3 329.1,334.4 325.4,338.5 340.3,351.9 333.6,359.3 318.7,345.9 315.0,350.1" fill="#ff0000"/>
<polygon points="312.7,344.5 334.6,341.9 332.5,347.1 351.0,354.6 347.3,363.8 328.7,356.3 326.6,361.5" fill="#ff0000"/>
<polygon points="321.0,354.6 342.8,351.2 340.8,356.5 359.6,363.3 356.2,372.7 337.4,365.9 335.5,371.1" fill="#ff0000"/>
<polygon points="328.8,357.2 349.9,350.8 348.7,356.3 368.3,360.4 366.2,370.2 346.6,366.1 345.5,371.5" fill="#ff0000"/>
<polygon points="337.9,355.2 359.5,351.1 357.8,356.4 376.8,362.6 373.7,372.1 354.7,365.9 352.9,371.2" fill="#ff0000"/>
<polygon points="345.4,361.2 364.8,350.6 364.8,356.2 384.8,356.2 384.8,366.2 364.8,366.2 364.8,371.8" fill="#ff0000"/>
<polygon points="354.0,351.7 373.3,341.1 373.3,346.7 393.3,346.7 393.3,356.7 373.3,356.7 373.3,362.3" fill="#ff0000"/>
<polygon points="362.5,323.3 381.8,312.7 381.8,318.3 401.8,318.3 401.8,328.3 381.8,328.3 381.8,333.9" fill="#ff0000"/>
<polygon points="373.0,314.8 395.0,313.8 392.6,318.8 410.5,327.6 406.2,336.6 388.2,327.8 385.7,332.8" fill="#ff0000"/>
<polygon points="382.2,313.7 404.2,314.1 401.4,319.0 418.7,329.0 413.7,337.6 396.4,327.6 393.6,332.5" fill="#ff0000"/>
<polygon points="389.7,306.3 411.6,304.1 409.4,309.2 427.8,317.0 423.9,326.3 405.5,318.4 403.3,323.6" fill="#ff0000"/>
<polygon points="398.2,306.3 420.1,304.1 417.9,309.2 436.4,317.0 432.4,326.3 414.0,318.4 411.8,323.6" fill="#ff0000"/>
<polygon points="406.8,296.8 428.7,294.6 426.5,299.8 444.9,307.6 441.0,316.8 422.6,309.0 420.4,314.1" fill="#ff0000"/>
<polygon points="415.2,287.7 437.0,285.1 434.9,290.3 453.5,297.8 449.7,307.0 431.2,299.5 429.1,304.7" fill="#ffff00"/>
<polygon points="423.8,296.8 445.8,294.6 443.6,299.8 462.0,307.6 458.1,316.8 439.7,309.0 437.5,314.1" fill="#ff0000"/>
<polygon points="433.4,313.7 455.4,314.1 452.6,319.0 470.0,329.0 465.0,337.6 447.6,327.6 444.8,332.5" fill="#ff0000"/>
<polygon points="439.4,334.1 458.0,322.2 458.3,327.8 478.3,326.4 479.0,336.4 459.0,337.8 459.4,343.3" fill="#ff0000"/>
<polygon points="447.9,342.2 467.2,331.6 467.2,337.2 487.2,337.2 487.2,347.2 467.2,347.2 467.2,352.8" fill="#ff0000"/>
<polygon points="456.5,342.2 475.8,331.6 475.8,337.2 495.8,337.2 495.8,347.2 475.8,347.2 475.8,352.8" fill="#ff0000"/>
<polygon points="465.0,351.7 484.3,341.1 484.3,346.7 504.3,346.7 504.3,356.7 484.3,356.7 484.3,362.3" fill="#ff0000"/>
<polygon points="473.5,351.7 492.8,341.1 492.8,346.7 512.8,346.7 512.8,356.7 492.8,356.7 492.8,362.3" fill="#ff0000"/>
<polygon points="482.1,351.7 501.4,341.1 501.4,346.7 521.4,346.7 521.4,356.7 501.4,356.7 501.4,362.3" fill="#ff0000"/>
<polygon points="492.0,349.5 506.0,332.4 508.1,337.6 526.6,330.1 530.3,339.4 511.8,346.9 513.9,352.1" fill="#ff0000"/>
<polygon points="500.8,331.2 514.2,313.6 516.4,318.7 534.7,310.6 538.8,319.7 520.5,327.9 522.8,333.0" fill="#ff0000"/>
<polygon points="507.7,332.8 527.0,322.2 527.0,327.8 547.0,327.8 547.0,337.8 527.0,337.8 527.0,343.4" fill="#ff0000"/>
<polygon points="516.2,342.2 535.5,331.6 535.5,337.2 555.5,337.2 555.5,347.2 535.5,347.2 535.5,352.8" fill="#ff0000"/>
<polygon points="524.8,323.3 544.1,312.7 544.1,318.3 564.1,318.3 564.1,328.3 544.1,328.3 544.1,333.9" fill="#ff0000"/>
<polygon points="534.9,306.3 556.8,304.1 554.6,309.2 573.0,317.0 569.1,326.3 550.7,318.4 548.5,323.6" fill="#ff0000"/>
<polygon points="543.0,297.8 564.8,294.4 562.9,299.7 581.7,306.5 578.3,315.9 559.5,309.1 557.5,314.3" fill="#ff0000"/>
<polygon points="552.4,286.4 574.4,285.4 571.9,290.4 589.9,299.2 585.5,308.2 567.5,299.4 565.1,304.4" fill="#ffff00"/>
<polygon points="560.8,296.2 582.7,294.8 580.4,299.8 598.5,308.3 594.3,317.4 576.1,308.9 573.8,314.0" fill="#ff0000"/>
<polygon points="567.5,322.0 587.5,312.7 587.1,318.3 607.1,319.7 606.4,329.7 586.4,328.3 586.1,333.9" fill="#ff0000"/>
<polygon points="576.0,332.8 595.3,322.2 595.3,327.8 615.3,327.8 615.3,337.8 595.3,337.8 595.3,343.4" fill="#ff0000"/>
<polygon points="584.6,332.8 603.9,322.2 603.9,327.8 623.9,327.8 623.9,337.8 603.9,337.8 603.9,343.4" fill="#ff0000"/>
<polygon points="594.8,340.6 608.1,323.1 610.4,328.2 628.6,320.1 632.7,329.2 614.4,337.3 616.7,342.5" fill="#ff0000"/>
<polygon points="602.8,348.8 617.3,332.3 619.2,337.5 638.0,330.7 641.5,340.1 622.7,346.9 624.6,352.2" fill="#ff0000"/>
<polygon points="611.6,349.5 625.5,332.4 627.6,337.6 646.2,330.1 649.9,339.4 631.4,346.9 633.5,352.1" fill="#ff0000"/>
<polygon points="620.4,359.6 633.7,342.0 636.0,347.1 654.3,339.0 658.3,348.1 640.1,356.3 642.3,361.4" fill="#ff0000"/>
<polygon points="628.9,359.6 642.3,342.0 644.5,347.1 662.8,339.0 666.9,348.1 648.6,356.3 650.9,361.4" fill="#ff0000"/>
<polygon points="637.5,350.1 650.8,332.5 653.1,337.7 671.3,329.5 675.4,338.7 657.1,346.8 659.4,351.9" fill="#ff0000"/>
<polygon points="646.0,350.1 659.3,332.5 661.6,337.7 679.9,329.5 684.0,338.7 665.7,346.8 668.0,351.9" fill="#ff0000"/>
<polygon points="654.3,349.5 668.2,332.4 670.3,337.6 688.9,330.1 692.6,339.4 674.1,346.9 676.2,352.1" fill="#ff0000"/>
<polygon points="662.6,339.4 677.1,322.8 679.0,328.1 697.8,321.2 701.2,330.6 682.4,337.5 684.4,342.7" fill="#ff0000"/>
<polygon points="674.9,336.2 682.2,315.4 685.9,319.6 700.8,306.2 707.5,313.6 692.6,327.0 696.4,331.2" fill="#ff0000"/>
<polygon points="715.8,316.4 701.6,333.2 699.6,328.0 680.9,335.1 677.3,325.8 696.0,318.6 694.0,313.4" fill="#ff0000"/>
<polygon points="698.8,296.1 716.1,309.7 711.0,311.9 718.8,330.3 709.6,334.2 701.7,315.8 696.6,318.0" fill="#ff0000"/>
<polygon points="714.9,304.0 725.5,323.3 719.9,323.3 719.9,343.3 709.9,343.3 709.9,323.3 704.3,323.3" fill="#ff0000"/>
<polygon points="723.4,322.9 734.0,342.2 728.4,342.2 728.4,362.2 718.4,362.2 718.4,342.2 712.8,342.2" fill="#ff0000"/>
<polygon points="744.4,327.4 740.1,349.0 735.8,345.4 722.9,360.8 715.3,354.3 728.1,339.0 723.8,335.4" fill="#ff0000"/>
<polygon points="757.9,333.8 745.2,351.8 742.7,346.7 724.7,355.5 720.3,346.5 738.3,337.7 735.9,332.7" fill="#ff0000"/>
<polygon points="766.2,333.5 753.9,351.7 751.3,346.7 733.5,355.8 729.0,346.9 746.8,337.8 744.2,332.8" fill="#ff0000"/>
<polygon points="776.9,332.8 757.6,343.4 757.6,337.8 737.6,337.8 737.6,327.8 757.6,327.8 757.6,322.2" fill="#ff0000"/>
<polygon points="785.4,332.8 766.1,343.4 766.1,337.8 746.1,337.8 746.1,327.8 766.1,327.8 766.1,322.2" fill="#ff0000"/>
<polygon points="794.0,332.8 774.7,343.4 774.7,337.8 754.7,337.8 754.7,327.8 774.7,327.8 774.7,322.2" fill="#ff0000"/>
<polygon points="802.5,332.8 783.2,343.4 783.2,337.8 763.2,337.8 763.2,327.8 783.2,327.8 783.2,322.2" fill="#ff0000"/>
<polygon points="809.4,306.0 796.1,323.5 793.8,318.4 775.5,326.5 771.4,317.4 789.7,309.3 787.4,304.1" fill="#ff0000"/>
<polygon points="817.9,296.5 804.6,314.1 802.3,308.9 784.1,317.1 780.0,307.9 798.3,299.8 796.0,294.7" fill="#ff0000"/>
<polygon points="825.9,285.8 813.8,304.3 811.2,299.3 793.5,308.7 788.8,299.9 806.5,290.5 803.9,285.5" fill="#ffff00"/>
<polygon points="833.7,284.7 823.0,303.9 820.0,299.1 803.1,309.7 797.8,301.3 814.7,290.7 811.8,285.9" fill="#ffff00"/>
<polygon points="839.6,271.8 833.4,292.9 829.4,289.0 815.3,303.1 808.2,296.0 822.4,281.9 818.4,277.9" fill="#ffff00"/>
<polygon points="848.1,281.3 841.9,302.4 838.0,298.4 823.8,312.6 816.8,305.5 830.9,291.4 827.0,287.4" fill="#ffff00"/>
<polygon points="856.6,290.7 850.5,311.9 846.5,307.9 832.4,322.0 825.3,315.0 839.5,300.8 835.5,296.9" fill="#ff0000"/>
<polygon points="865.2,309.7 859.0,330.8 855.1,326.8 840.9,341.0 833.9,333.9 848.0,319.8 844.0,315.8" fill="#ff0000"/>
<polygon points="873.7,328.6 867.6,349.7 863.6,345.8 849.5,359.9 842.4,352.8 856.5,338.7 852.6,334.7" fill="#ff0000"/>
<polygon points="882.3,338.1 876.1,359.2 872.1,355.2 858.0,369.4 850.9,362.3 865.1,348.2 861.1,344.2" fill="#ff0000"/>
<polygon points="891.5,338.8 884.2,359.6 880.5,355.4 865.6,368.8 858.9,361.4 873.8,348.0 870.1,343.8" fill="#ff0000"/>
<polygon points="899.6,347.8 893.1,368.8 889.2,364.8 874.8,378.7 867.8,371.5 882.2,357.6 878.3,353.5" fill="#ff0000"/>
<polygon points="908.1,347.8 901.6,368.8 897.7,364.8 883.3,378.7 876.4,371.5 890.8,357.6 886.9,353.5" fill="#ff0000"/>
<polygon points="916.7,347.8 910.1,368.8 906.2,364.8 891.9,378.7 884.9,371.5 899.3,357.6 895.4,353.5" fill="#ff0000"/>
<polygon points="917.9,343.0 921.3,364.8 916.0,362.9 909.2,381.7 899.8,378.3 906.6,359.5 901.3,357.5" fill="#ff0000"/>
<polygon points="924.8,342.5 930.1,363.9 924.7,362.5 919.5,381.8 909.8,379.2 915.0,359.9 909.6,358.4" fill="#ff0000"/>
<polygon points="934.0,333.2 938.5,354.8 933.2,353.2 927.3,372.3 917.8,369.4 923.6,350.2 918.3,348.6" fill="#ff0000"/>
<polygon points="941.6,333.0 947.2,354.3 941.8,352.9 936.9,372.3 927.2,369.9 932.1,350.5 926.6,349.1" fill="#ff0000"/>
<polygon points="945.5,322.9 956.1,342.2 950.5,342.2 950.5,362.2 940.5,362.2 940.5,342.2 934.9,342.2" fill="#ff0000"/>
<polygon points="954.0,313.5 964.6,332.8 959.0,332.8 959.0,352.8 949.0,352.8 949.0,332.8 943.4,332.8" fill="#ff0000"/>
<polygon points="962.5,313.5 973.1,332.8 967.5,332.8 967.5,352.8 957.5,352.8 957.5,332.8 951.9,332.8" fill="#ff0000"/>
<polygon points="971.1,313.5 981.7,332.8 976.1,332.8 976.1,352.8 966.1,352.8 966.1,332.8 960.5,332.8" fill="#ff0000"/>
<polygon points="979.6,313.5 990.2,332.8 984.6,332.8 984.6,352.8 974.6,352.8 974.6,332.8 969.0,332.8" fill="#ff0000"/>
<polygon points="988.2,322.9 998.8,342.2 993.2,342.2 993.2,362.2 983.2,362.2 983.2,342.2 977.6,342.2" fill="#ff0000"/>
<polygon points="990.1,343.0 1006.7,357.5 1001.4,359.5 1008.2,378.3 998.9,381.7 992.0,362.9 986.7,364.8" fill="#ff0000"/>
<polygon points="998.3,352.6 1015.1,366.8 1009.9,368.8 1017.1,387.5 1007.7,391.1 1000.6,372.4 995.4,374.4" fill="#ff0000"/>
<polygon points="995.7,364.0 1017.4,360.7 1015.5,365.9 1034.3,372.8 1030.9,382.2 1012.1,375.3 1010.2,380.6" fill="#ff0000"/>
</g>
</svg></body></html>
